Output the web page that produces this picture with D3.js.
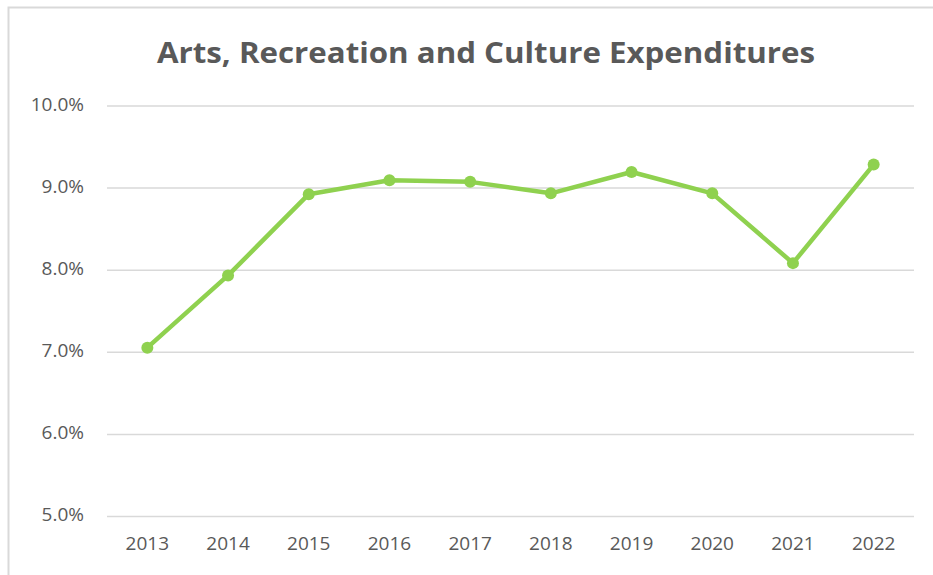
<!DOCTYPE html>
<html>
<head>
<meta charset="utf-8">
<script src="https://cdn.jsdelivr.net/npm/d3@7"></script>
<style>
  html, body { margin: 0; padding: 0; background: #fff; }
  svg { display: block; }
</style>
</head>
<body>
<svg id="chart" width="933" height="575"></svg>
<script>
const title = "Arts, Recreation and Culture Expenditures";
const years = ["2013","2014","2015","2016","2017","2018","2019","2020","2021","2022"];
const values = [7.05, 7.93, 8.92, 9.09, 9.07, 8.93, 9.19, 8.93, 8.08, 9.28];
const yTicks = [5, 6, 7, 8, 9, 10];

const W = 933, H = 575;
const svg = d3.select("#chart");
const FONT = "'Open Sans', 'Noto Sans', sans-serif";

// chart border
svg.append("rect")
  .attr("x", 8.5).attr("y", 7.5)
  .attr("width", W + 10).attr("height", H + 10)
  .attr("fill", "#fff")
  .attr("stroke", "#d9d9d9").attr("stroke-width", 2);

const plot = { left: 107, right: 914, top: 105.5, bottom: 516 };

const x = d3.scaleBand().domain(years).range([plot.left, plot.right]);
const y = d3.scaleLinear().domain([5, 10]).range([plot.bottom, plot.top]);

// title
svg.append("text")
  .attr("x", 486).attr("y", 63)
  .attr("text-anchor", "middle")
  .attr("font-family", FONT)
  .attr("font-weight", "700")
  .attr("font-size", 29)
  .attr("fill", "#595959")
  .attr("textLength", 658)
  .attr("lengthAdjust", "spacingAndGlyphs")
  .text(title);

// gridlines + y labels via axis
const yAxis = d3.axisLeft(y).tickValues(yTicks)
  .tickSize(-(plot.right - plot.left))
  .tickPadding(23)
  .tickFormat(d => d3.format(".1f")(d) + "%");

const gy = svg.append("g")
  .attr("transform", `translate(${plot.left},0)`)
  .call(yAxis);
gy.select(".domain").remove();
gy.selectAll(".tick line").attr("stroke", "#d9d9d9").attr("stroke-width", 1.5);
gy.selectAll(".tick text")
  .attr("fill", "#595959")
  .attr("font-family", FONT)
  .attr("font-size", 19)
  .attr("dy", "0.25em");

// x labels via axis
const xAxis = d3.axisBottom(x).tickSize(0).tickPadding(21);
const gx = svg.append("g")
  .attr("transform", `translate(0,${plot.bottom})`)
  .call(xAxis);
gx.select(".domain").remove();
gx.selectAll(".tick text")
  .attr("fill", "#595959")
  .attr("font-family", FONT)
  .attr("font-size", 19);

const cx = d => x(d) + x.bandwidth() / 2;
const data = years.map((yr, i) => ({ yr, v: values[i] }));

svg.append("path")
  .datum(data)
  .attr("fill", "none")
  .attr("stroke", "#8fd14f")
  .attr("stroke-width", 4.5)
  .attr("stroke-linejoin", "round")
  .attr("stroke-linecap", "round")
  .attr("d", d3.line().x(d => cx(d.yr)).y(d => y(d.v)));

svg.append("g").selectAll("circle")
  .data(data).join("circle")
  .attr("cx", d => cx(d.yr))
  .attr("cy", d => y(d.v))
  .attr("r", 6)
  .attr("fill", "#8fd14f");
</script>
</body>
</html>
